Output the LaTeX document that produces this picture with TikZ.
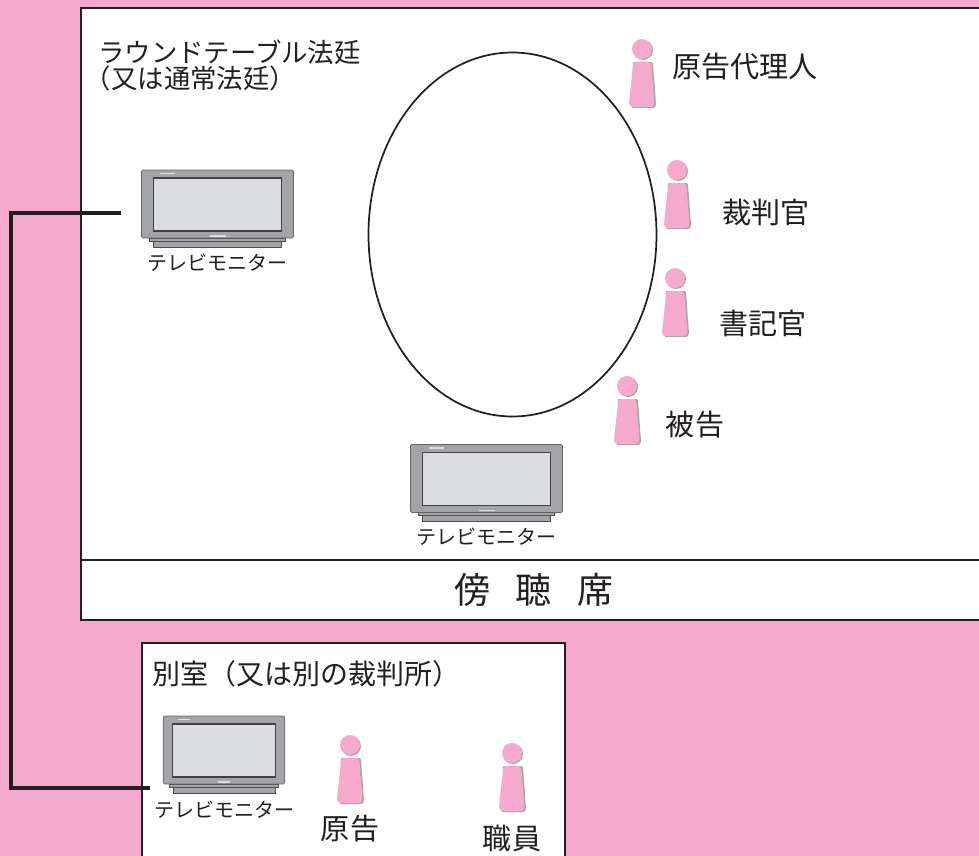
\documentclass[tikz,border=0pt]{standalone}
\usepackage{fontspec}
\setmainfont{Noto Sans CJK JP}
\definecolor{roompink}{HTML}{F5A9CC}
\definecolor{tvframe}{HTML}{A3A4A7}
\definecolor{tvscreen}{HTML}{DCDDDF}
\definecolor{inkline}{HTML}{231F20}
\tikzset{
  room/.style = {draw=inkline, line width=1.5pt, fill=white},
  link/.style = {draw=inkline, line width=2.8pt, line cap=butt},
  label/.style = {inner sep=0pt, text=inkline, font=\fontsize{21.8}{26}\selectfont},
  tvlabel/.style = {inner sep=0pt, text=inkline, font=\fontsize{15}{18}\selectfont},
  pics/tv/.style = {code = {
    \draw[inkline!80, fill=tvframe, line width=0.4pt] (-68, 34) rectangle (68, 37);
    \draw[inkline!80, fill=tvframe, line width=0.4pt] (-64, 37) rectangle (64, 43);
    \draw[inkline!70, fill=tvframe, line width=0.5pt, rounded corners=1pt] (-76, -34) rectangle (76, 34);
    \draw[inkline!85, fill=tvscreen, line width=0.9pt] (-64, -26) rectangle (64, 27);
    \fill[tvscreen] (-58, -31.5) rectangle (-43, -30);
    \fill[tvscreen] (-8, 31) rectangle (8, 32.5);
  }},
  pics/person/.style = {code = {
    \fill[gray!70] (1, 1) circle (10);
    \fill[gray!70] (-9, 14) .. controls (-9, 13) and (-8, 13) .. (-7, 13) -- (9, 13) .. controls (10, 13) and (11, 14) .. (11, 15) -- (14, 55) .. controls (14, 57) and (13, 59) .. (11, 59) -- (-10, 59) -- cycle;
    \fill[roompink] (0, 0) circle (10);
    \fill[roompink] (-9, 17) .. controls (-9, 14) and (-8, 13) .. (-6, 13) -- (6, 13) .. controls (8, 13) and (9, 14) .. (9.5, 17) -- (12.5, 54) .. controls (12.5, 56) and (11, 58) .. (9, 58) -- (-10, 58) .. controls (-12, 58) and (-13, 56) .. (-13, 54) -- cycle;
  }}
}
\begin{document}
\begin{tikzpicture}[x=0.75pt, y=-0.75pt]
\useasboundingbox (0, 0) rectangle (979, 856);
\clip (0, 0) rectangle (979, 856);
\fill[roompink] (0, 0) rectangle (979, 856);

% rooms
\path[room] (81, 8) rectangle (1000, 620);
\draw[inkline, line width=1.5pt] (81, 560) -- (1000, 560);
\path[room] (142, 643) rectangle (565, 880);
\draw[inkline, line width=1.3pt] (512.5, 234.5) ellipse (144 and 182);

% monitors
\pic at (217.5, 204) {tv};
\pic at (486.5, 478.5) {tv};
\pic[xscale=0.8] at (224, 750) {tv};

\node[tvlabel] (monitorA) at (217.5, 263) {テレビモニター};
\node[tvlabel] (monitorB) at (486, 537) {テレビモニター};
\node[tvlabel] (monitorC) at (224, 810) {テレビモニター};

% people
\pic at (642, 49) {person};
\pic at (677, 170) {person};
\pic at (675, 278) {person};
\pic at (627, 386) {person};
\pic at (350, 745) {person};
\pic at (512, 753) {person};

\node[label] (plaintiffrep) at (745, 67) {原告代理人};
\node[label] (judge) at (766, 212) {裁判官};
\node[label] (clerk) at (763, 323) {書記官};
\node[label] (defendant) at (695, 425) {被告};
\node[label] (plaintiff) at (350, 829) {原告};
\node[label] (staff) at (512, 838) {職員};

\node[label, font=\fontsize{19.8}{19.5}\selectfont, align=left, anchor=north west] (court) at (98, 40) {ラウンドテーブル法廷\\\hspace*{-10pt}（又は通常法廷）};
\node[label, font=\fontsize{27}{30}\selectfont] (gallery) at (534, 590) {傍\hspace{19pt}聴\hspace{19pt}席};
\node[label, font=\fontsize{21}{24}\selectfont, anchor=west] (otherroom) at (152, 674) {別室（又は別の裁判所）};

% video line
\coordinate (linkA) at (121, 213);
\coordinate (linkB) at (150, 788);
\draw[link] (linkA) -- (11, 213) -- (11, 788) -- (linkB);
\end{tikzpicture}
\end{document}
